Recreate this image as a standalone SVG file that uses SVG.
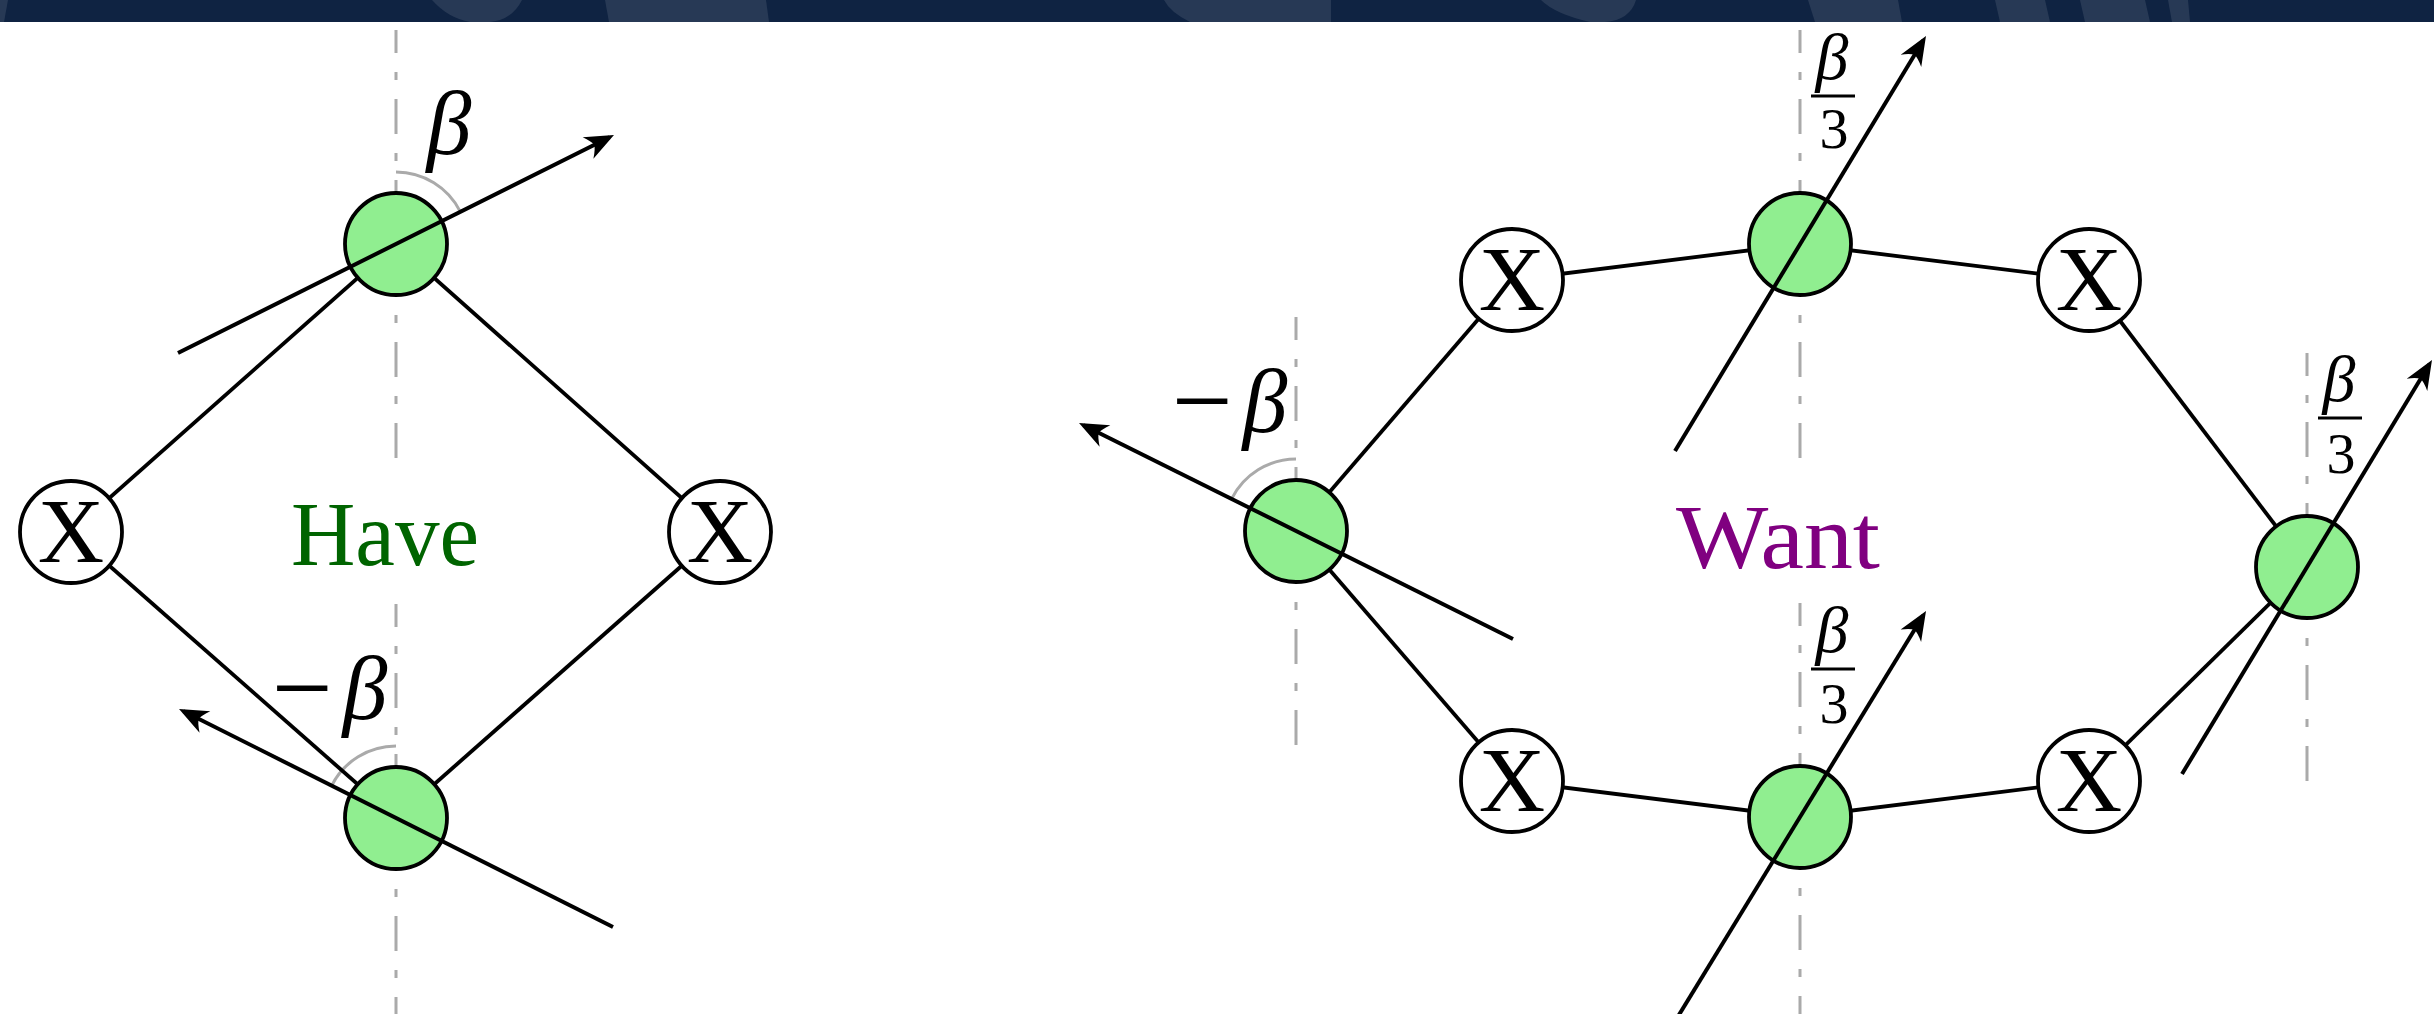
<svg xmlns="http://www.w3.org/2000/svg" width="2434" height="1014" viewBox="0 0 2434 1014">
  <defs>
    <style>
      .axis { stroke: #aaaaaa; stroke-width: 3; fill: none; stroke-dasharray: 35 19 8 19; }
      .arc { stroke: #aaaaaa; stroke-width: 3; fill: none; }
      .edge { stroke: #000; stroke-width: 3.8; fill: none; }
      .ray { stroke: #000; stroke-width: 4; fill: none; marker-end: url(#head); }
      .spin { fill: #90ee90; stroke: #000; stroke-width: 3.8; }
      .xnode { fill: #ffffff; stroke: #000; stroke-width: 3.8; }
      .xlabel { font-family: "Liberation Serif", "Times New Roman", serif; font-size: 92px; text-anchor: middle; fill: #000; }
      .math { font-family: "Liberation Serif", "Times New Roman", serif; fill: #000; }
      .minus { font-size: 108px; }
      .beta { font-style: italic; }
      .title { font-family: "Liberation Serif", "Times New Roman", serif; font-size: 92px; text-anchor: middle; }
      .bar { stroke: #000; stroke-width: 3.2; }
      .band { fill: #ffffff; fill-opacity: 0.1; }
    </style>
    <marker id="head" viewBox="-32 -14 38 28" markerWidth="38" markerHeight="28" refX="-5" refY="0" orient="auto" markerUnits="userSpaceOnUse">
      <path d="M0,0 L-29,-12 Q-23,-4.5 -22,0 Q-23,4.5 -29,12 Z" fill="#000"/>
    </marker>
  </defs>

  <rect x="0" y="0" width="2434" height="1014" fill="#ffffff"/>

  <!-- header strip -->
  <g id="header">
    <rect x="0" y="0" width="2434" height="22" fill="#0f2342"/>
    <path class="band" d="M0,0 L8,0 L4,22 L0,22 Z"/>
    <path class="band" d="M432,0 L522,0 Q512,20 490,22 L470,22 Q448,18 432,0 Z"/>
    <path class="band" d="M605,0 L766,0 L769,22 L609,22 Z"/>
    <path class="band" d="M1164,0 L1331,0 L1331,22 L1190,22 Q1170,12 1164,0 Z"/>
    <path class="band" d="M1541,0 L1636,0 Q1630,20 1605,22 L1590,22 Q1555,14 1541,0 Z"/>
    <path class="band" d="M1808,0 L1898,0 L1902,22 L1815,22 Z"/>
    <path class="band" d="M1995,0 L2045,0 L2050,22 L2000,22 Z"/>
    <path class="band" d="M2080,0 L2145,0 L2150,22 L2085,22 Z"/>
    <path class="band" d="M2168,0 L2188,0 L2190,22 L2172,22 Z"/>
  </g>

  <!-- reference axes through the spin sites, drawn bottom to top -->
  <g id="axes">
    <path class="axis" d="M396,458 L396,30"/>
    <path class="axis" d="M396,1032 L396,604"/>
    <path class="axis" d="M1296,745 L1296,317"/>
    <path class="axis" d="M1800,458 L1800,30"/>
    <path class="axis" d="M1800,1031 L1800,603"/>
    <path class="axis" d="M2307,781 L2307,353"/>
    <path class="arc" d="M396,172 A72,72 0 0 1 460.4,211.8"/>
    <path class="arc" d="M396,746 A72,72 0 0 0 331.6,785.8"/>
    <path class="arc" d="M1296,459 A72,72 0 0 0 1231.6,498.9"/>
  </g>

  <!-- bonds between sites -->
  <g id="connectors">
    <line class="edge" x1="71" y1="532" x2="396" y2="244"/>
    <line class="edge" x1="396" y1="244" x2="720" y2="532"/>
    <line class="edge" x1="720" y1="532" x2="396" y2="818"/>
    <line class="edge" x1="396" y1="818" x2="71" y2="532"/>

    <line class="edge" x1="1296" y1="531" x2="1512" y2="280"/>
    <line class="edge" x1="1512" y1="280" x2="1800" y2="244"/>
    <line class="edge" x1="1800" y1="244" x2="2089" y2="280"/>
    <line class="edge" x1="2089" y1="280" x2="2307" y2="567"/>
    <line class="edge" x1="2307" y1="567" x2="2089" y2="781"/>
    <line class="edge" x1="2089" y1="781" x2="1800" y2="817"/>
    <line class="edge" x1="1800" y1="817" x2="1512" y2="781"/>
    <line class="edge" x1="1512" y1="781" x2="1296" y2="531"/>
  </g>

  <!-- Have -->
  <g id="have-x-left"><circle class="xnode" cx="71" cy="532" r="51"/><text class="xlabel" x="71" y="562">X</text></g>
  <g id="have-x-right"><circle class="xnode" cx="720" cy="532" r="51"/><text class="xlabel" x="720" y="562">X</text></g>
  <g id="have-spin-top"><circle class="spin" cx="396" cy="244" r="51"/></g>
  <g id="have-spin-bottom"><circle class="spin" cx="396" cy="818" r="51"/></g>

  <!-- Want -->
  <g id="want-x-tl"><circle class="xnode" cx="1512" cy="280" r="51"/><text class="xlabel" x="1512" y="310">X</text></g>
  <g id="want-x-tr"><circle class="xnode" cx="2089" cy="280" r="51"/><text class="xlabel" x="2089" y="310">X</text></g>
  <g id="want-x-bl"><circle class="xnode" cx="1512" cy="781" r="51"/><text class="xlabel" x="1512" y="811">X</text></g>
  <g id="want-x-br"><circle class="xnode" cx="2089" cy="781" r="51"/><text class="xlabel" x="2089" y="811">X</text></g>
  <g id="want-spin-left"><circle class="spin" cx="1296" cy="531" r="51"/></g>
  <g id="want-spin-top"><circle class="spin" cx="1800" cy="244" r="51"/></g>
  <g id="want-spin-bottom"><circle class="spin" cx="1800" cy="817" r="51"/></g>
  <g id="want-spin-right"><circle class="spin" cx="2307" cy="567" r="51"/></g>

  <!-- spin directions -->
  <g id="rays">
    <line class="ray" x1="178" y1="353" x2="609.5" y2="137.2"/>
    <line class="ray" x1="613" y1="927" x2="183.5" y2="711.2"/>
    <line class="ray" x1="1513" y1="639" x2="1083.5" y2="425.2"/>
    <line class="ray" x1="1675" y1="451" x2="1923.4" y2="40.3"/>
    <line class="ray" x1="1674" y1="1023" x2="1923.4" y2="615.3"/>
    <line class="ray" x1="2182" y1="774" x2="2429.4" y2="364.3"/>
  </g>

  <!-- titles -->
  <text class="title" x="385" y="565" fill="#006400" textLength="188" lengthAdjust="spacingAndGlyphs">Have</text>
  <text class="title" x="1778" y="568" fill="#800080" textLength="204" lengthAdjust="spacingAndGlyphs">Want</text>

  <!-- angle labels -->
  <g id="labels">
    <text class="math beta" x="449" y="154" font-size="90" text-anchor="middle">β</text>

    <text class="math" font-size="90"><tspan class="minus" x="302" y="724" text-anchor="middle">−</tspan><tspan class="beta" x="365" y="719" text-anchor="middle">β</tspan></text>
    <text class="math" font-size="90"><tspan class="minus" x="1202" y="437" text-anchor="middle">−</tspan><tspan class="beta" x="1265" y="432" text-anchor="middle">β</tspan></text>

    <g id="frac-top">
      <text class="math beta" x="1832" y="79" font-size="66" text-anchor="middle">β</text>
      <line class="bar" x1="1811" y1="96" x2="1855" y2="96"/>
      <text class="math" x="1834" y="148" font-size="58" text-anchor="middle">3</text>
    </g>
    <g id="frac-bottom">
      <text class="math beta" x="1832" y="652" font-size="66" text-anchor="middle">β</text>
      <line class="bar" x1="1811" y1="669" x2="1855" y2="669"/>
      <text class="math" x="1834" y="723" font-size="58" text-anchor="middle">3</text>
    </g>
    <g id="frac-right">
      <text class="math beta" x="2339" y="401" font-size="66" text-anchor="middle">β</text>
      <line class="bar" x1="2318" y1="418" x2="2362" y2="418"/>
      <text class="math" x="2341" y="473" font-size="58" text-anchor="middle">3</text>
    </g>
  </g>
</svg>
